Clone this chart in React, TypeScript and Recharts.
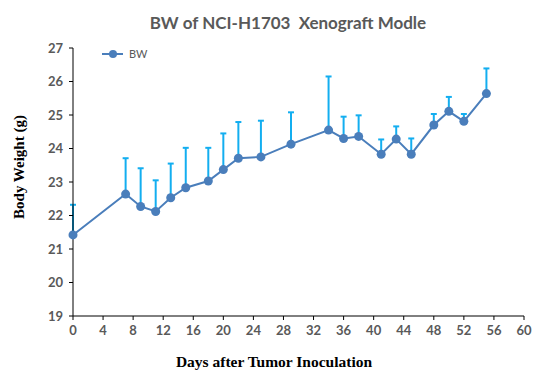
import { LineChart, Line, XAxis, YAxis, ErrorBar } from 'recharts';

// 接種後日数と体重（平均 ± SD の上側のみ）
const DAYS = [0, 7, 9, 11, 13, 15, 18, 20, 22, 25, 29, 34, 36, 38, 41, 43, 45, 48, 50, 52, 55];
const BW = [21.42, 22.64, 22.27, 22.12, 22.53, 22.83, 23.03, 23.37, 23.71, 23.75, 24.13,
  24.55, 24.30, 24.36, 23.83, 24.28, 23.83, 24.70, 25.11, 24.81, 25.64];
const SD = [0.90, 1.07, 1.14, 0.93, 1.02, 1.19, 0.99, 1.08, 1.08, 1.08, 0.95,
  1.60, 0.65, 0.63, 0.44, 0.38, 0.47, 0.33, 0.43, 0.22, 0.75];

const X_TICKS = [0, 4, 8, 12, 16, 20, 24, 28, 32, 36, 40, 44, 48, 52, 56, 60];
const Y_TICKS = [19, 20, 21, 22, 23, 24, 25, 26, 27];

const LINE_COLOR = '#4a7ebb';
const ERR_COLOR = '#13aef0';
const GREY = '#595959';

const data = DAYS.map((d, i) => ({ day: d, bw: BW[i], err: [0, SD[i]] }));

const tickStyle = { fill: GREY, fontSize: 13, fontFamily: 'Lato', fontWeight: 700 };

export default function App() {
  return (
    <div style={{ position: 'absolute', left: 0, top: 0, width: 551, height: 380, background: '#fff' }}>
      <LineChart width={551} height={380} data={data} margin={{ top: 48, right: 27, left: 0, bottom: 0 }}>
        <XAxis
          dataKey="day"
          type="number"
          domain={[0, 60]}
          ticks={X_TICKS}
          height={64}
          tick={tickStyle}
          stroke="#000"
          tickSize={4}
          tickMargin={6}
        />
        <YAxis
          type="number"
          domain={[19, 27]}
          ticks={Y_TICKS}
          width={73}
          tick={tickStyle}
          stroke="#000"
          tickSize={4}
          tickMargin={6}
        />
        <Line
          dataKey="bw"
          stroke={LINE_COLOR}
          strokeWidth={2}
          dot={{ r: 4.5, fill: LINE_COLOR, stroke: 'none' }}
          isAnimationActive={false}
        >
          <ErrorBar dataKey="err" direction="y" width={3} stroke={ERR_COLOR} strokeWidth={2} />
        </Line>
      </LineChart>
      <svg width={551} height={380} style={{ position: 'absolute', left: 0, top: 0, pointerEvents: 'none' }}>
        <text x={288} y={29} textAnchor="middle" fontFamily="Lato" fontWeight={700} fontSize={17} fill={GREY}
          style={{ whiteSpace: 'pre' }}>
          {'BW of NCI-H1703  Xenograft Modle'}
        </text>
        <text x={274} y={367} textAnchor="middle" fontFamily="Liberation Serif" fontWeight={700} fontSize={15.5} fill="#000">
          Days after Tumor Inoculation
        </text>
        <text transform="translate(24,167) rotate(-90)" textAnchor="middle" fontFamily="Liberation Serif" fontWeight={700} fontSize={15} fill="#000">
          Body Weight (g)
        </text>
        <line x1={102} y1={54} x2={123} y2={54} stroke={LINE_COLOR} strokeWidth={2} />
        <circle cx={113} cy={54} r={4} fill={LINE_COLOR} />
        <text x={129} y={58} fontFamily="Lato" fontSize={11} fill={GREY}>BW</text>
      </svg>
    </div>
  );
}
